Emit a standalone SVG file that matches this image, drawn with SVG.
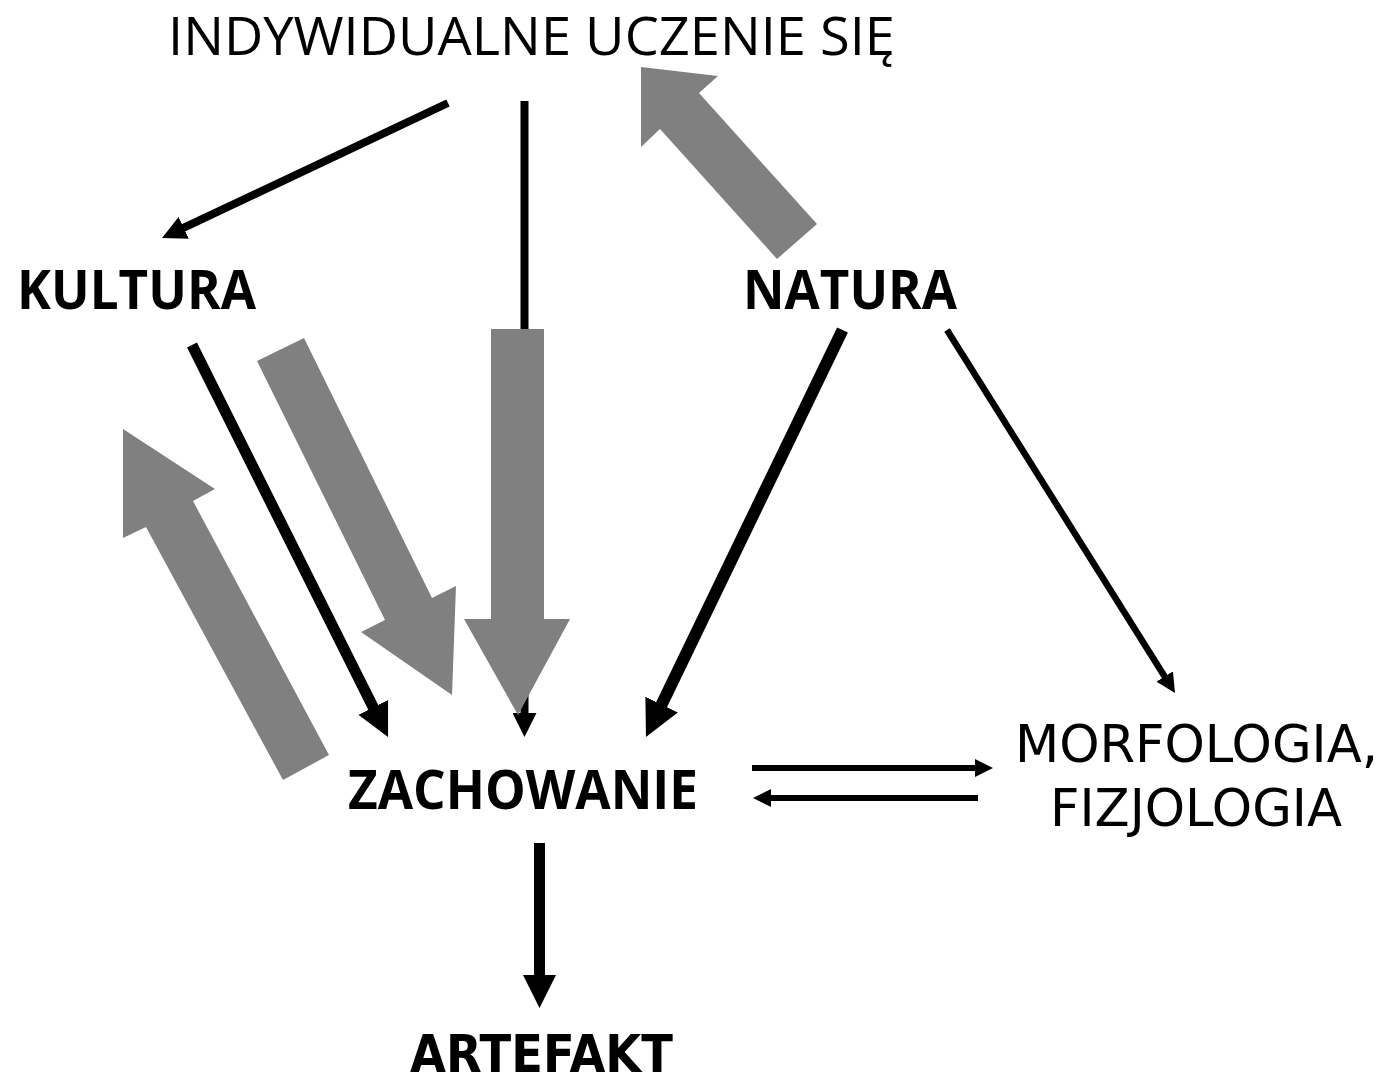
<svg xmlns="http://www.w3.org/2000/svg" width="1391" height="1085" viewBox="0 0 1391 1085">
<style>
  .lbl { font-family: "Open Sans", "DejaVu Sans", sans-serif; font-size: 53px; fill: #000; }
  .b { font-weight: 700; font-size: 54px; }
  .tight { font-family: "DejaVu Sans", "Open Sans", sans-serif; font-size: 52px; }
  .ln { stroke: #000; fill: none; stroke-linecap: butt; marker-end: url(#ah); }
  .big { fill: #808080; stroke: none; }
</style>
<defs>
  <marker id="ah" viewBox="0 0 3 3" markerUnits="strokeWidth" markerWidth="3" markerHeight="3" refX="1" refY="1.5" orient="auto">
    <path d="M0,0 L3,1.5 L0,3 z" fill="#000"/>
  </marker>
</defs>
<rect width="1391" height="1085" fill="#fff"/>
<g id="connectors">
  <line class="ln" x1="448" y1="103" x2="176.5" y2="231.2" stroke-width="8"/>
  <line class="ln" x1="524.5" y1="101" x2="524.5" y2="721" stroke-width="8"/>
  <line class="ln" x1="192" y1="345" x2="378.2" y2="717.3" stroke-width="11"/>
  <line class="ln" x1="842.5" y1="330" x2="656.4" y2="715.4" stroke-width="12"/>
  <line class="ln" x1="947" y1="330" x2="1168.1" y2="682" stroke-width="6.5"/>
  <line class="ln" x1="539.5" y1="843" x2="539.5" y2="986" stroke-width="11"/>
  <line class="ln" x1="752" y1="768" x2="981" y2="768" stroke-width="6"/>
  <line class="ln" x1="978" y1="798" x2="765" y2="798" stroke-width="6"/>
  <polygon class="big" points="491,329 544,329 544,619 570,619 518,715 464,619 491,619"/>
  <polygon class="big" points="257,361 304,338 432,598 456,586 452,695 361,632 385,620"/>
  <polygon class="big" points="123,429 215,489 193,501 329,755 283,780 146,527 123,538"/>
  <polygon class="big" points="641,67 718,76 699,93 817,224 777,259 660,129 641,147"/>
</g>
<g id="node-indywidualne"><text class="lbl" x="168" y="55" textLength="727" lengthAdjust="spacingAndGlyphs">INDYWIDUALNE UCZENIE SIĘ</text></g>
<g id="node-kultura"><text class="lbl b" x="17" y="309" textLength="239" lengthAdjust="spacingAndGlyphs">KULTURA</text></g>
<g id="node-natura"><text class="lbl b" x="743" y="309" textLength="214" lengthAdjust="spacingAndGlyphs">NATURA</text></g>
<g id="node-zachowanie"><text class="lbl b" x="348" y="809" textLength="350" lengthAdjust="spacingAndGlyphs">ZACHOWANIE</text></g>
<g id="node-morfologia">
  <text class="lbl tight" x="1015" y="762" textLength="363" lengthAdjust="spacingAndGlyphs">MORFOLOGIA,</text>
  <text class="lbl tight" x="1050" y="826" textLength="292" lengthAdjust="spacingAndGlyphs">FIZJOLOGIA</text>
</g>
<g id="node-artefakt"><text class="lbl b tight" x="410" y="1072" textLength="263" lengthAdjust="spacingAndGlyphs">ARTEFAKT</text></g>
</svg>
